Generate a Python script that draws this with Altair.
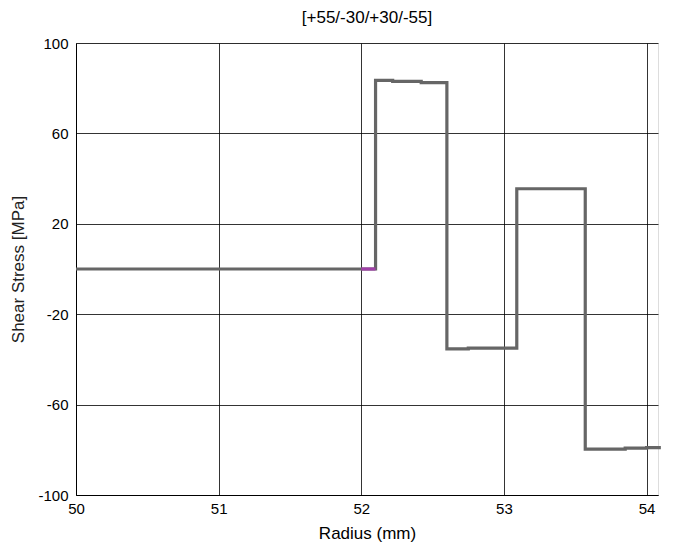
import altair as alt
import pandas as pd

# step breakpoints (step-after)
radius = [50.0, 52.1, 52.22, 52.42, 52.6, 52.75, 53.09, 53.57, 53.85, 54.0, 54.1]
stress = [0.0, 83.5, 83.0, 82.5, -35.3, -35.0, 35.5, -79.7, -79.3, -79.0, -79.0]

purple_radius = [52.0, 52.1]
purple_stress = [0.0, 0.0]

x_ticks = [50, 51, 52, 53, 54]
y_ticks = [-100, -60, -20, 20, 60, 100]

df = pd.DataFrame({"r": radius, "s": stress})
dp = pd.DataFrame({"r": purple_radius, "s": purple_stress})

FONT = "Liberation Sans"

x_enc = alt.X("r:Q", scale=alt.Scale(domain=[50, 54.08], nice=False, zero=False),
              axis=alt.Axis(values=x_ticks, title="Radius (mm)", format="d",
                            grid=True, gridColor="#000", gridOpacity=1, gridWidth=0.8,
                            domainColor="#000", tickSize=0, labelPadding=6,
                            labelFontSize=15, labelFont=FONT, labelColor="#000",
                            titleFont=FONT, titleFontSize=17, titleFontWeight="normal",
                            titleColor="#000", titlePadding=9, labelFlush=False))
y_enc = alt.Y("s:Q", scale=alt.Scale(domain=[-100, 100], nice=False),
              axis=alt.Axis(values=y_ticks, title="Shear Stress [MPa]",
                            labelExpr="replace(datum.label, '\u2212', '-')",
                            grid=True, gridColor="#000", gridOpacity=1, gridWidth=0.8,
                            domainColor="#000", tickSize=0, labelPadding=8,
                            labelFontSize=15, labelFont=FONT, labelColor="#000",
                            titleFont=FONT, titleFontSize=17,
                            titleFontWeight="normal", titleColor="#222", titlePadding=10))

gray = alt.Chart(df).mark_line(interpolate="step-after", color="#666666",
                               strokeWidth=3.2).encode(x=x_enc, y=y_enc)
purple = alt.Chart(dp).mark_line(color="#a040a8", strokeWidth=3.2).encode(x="r:Q", y="s:Q")

chart = (gray + purple).properties(
    width=582, height=452,
    title=alt.TitleParams("[+55/-30/+30/-55]", font=FONT, fontSize=17,
                          fontWeight="normal", color="#000", offset=9),
    autosize=alt.AutoSizeParams(type="none"),
    padding={"left": 68, "top": 35, "right": 13, "bottom": 48},
).configure_view(stroke="#000", strokeWidth=1.2).configure(background="white")

chart.save("out.html", embed_options={"renderer": "svg", "actions": False})
